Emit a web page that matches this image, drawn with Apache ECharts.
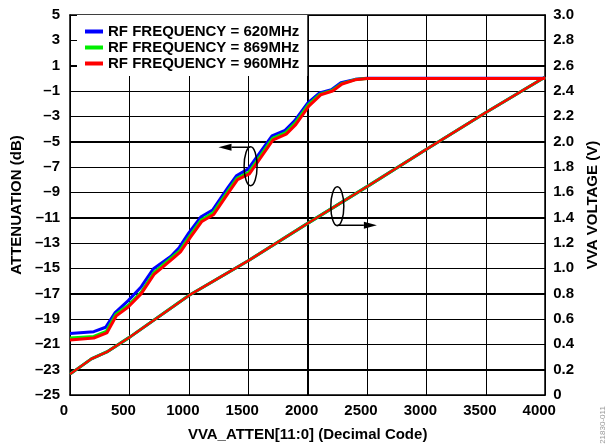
<!DOCTYPE html>
<html><head><meta charset="utf-8">
<script src="https://cdn.jsdelivr.net/npm/echarts@6/dist/echarts.min.js"></script>
<style>html,body{margin:0;padding:0;background:#fff}#c{width:608px;height:447px}</style>
</head><body><div id="c"></div>
<script>
// ---- data ----
const seriesNames = ['RF FREQUENCY = 620MHz', 'RF FREQUENCY = 869MHz', 'RF FREQUENCY = 960MHz'];
const seriesColors = ['#0000ff', '#00ee00', '#ff0000'];
const atten620 = [[0,-20.15],[200,-20.0],[300,-19.65],[380,-18.5],[490,-17.55],[600,-16.45],[700,-15.05],[850,-14.05],[920,-13.35],[1000,-12.2],[1100,-10.95],[1200,-10.4],[1330,-8.6],[1400,-7.7],[1500,-7.15],[1700,-4.55],[1810,-4.1],[1890,-3.35],[2000,-1.95],[2100,-1.15],[2200,-0.9],[2280,-0.35],[2400,-0.08],[2500,0],[4000,0]];
const atten869 = [[0,-20.5],[200,-20.38],[305,-19.98],[385,-18.65],[490,-17.92],[600,-16.88],[705,-15.35],[860,-14.12],[925,-13.6],[1005,-12.48],[1105,-11.18],[1205,-10.62],[1335,-8.83],[1405,-7.9],[1505,-7.43],[1705,-4.74],[1815,-4.28],[1895,-3.54],[2005,-2.1],[2105,-1.25],[2205,-0.96],[2285,-0.42],[2400,-0.1],[2500,-0.01],[4000,-0.01]];
const atten960 = [[0,-20.65],[200,-20.5],[310,-20.1],[390,-18.75],[490,-18.05],[600,-17.0],[710,-15.45],[870,-14.2],[930,-13.7],[1010,-12.6],[1110,-11.3],[1210,-10.75],[1340,-8.95],[1410,-8.0],[1510,-7.55],[1710,-4.85],[1820,-4.4],[1900,-3.65],[2010,-2.2],[2110,-1.3],[2210,-1.0],[2290,-0.45],[2400,-0.12],[2500,-0.02],[4000,-0.02]];
const vvaVoltage = [[0,0.165],[180,0.285],[310,0.34],[500,0.455],[1000,0.785],[1500,1.06],[2000,1.355],[2500,1.645],[3000,1.94],[3500,2.23],[4000,2.51]];
// grid tick values
const xTicks = [500, 1000, 1500, 2000, 2500, 3000, 3500];
const voltTicks = [0.2, 0.4, 0.6, 0.8, 1.0, 1.2, 1.4, 1.6, 1.8, 2.0, 2.2, 2.4, 2.6, 2.8];
// annotation anchors in data units: [x, y, yAxisIndex]
const ellipseAtten = [1520, -6.94, 0];
const arrowAtten = [[1517, -5.44], [1250, -5.44]];
const ellipseVolt = [2250, 1.49, 1];
const arrowVolt = [[2250, 1.34], [2583, 1.34]];

const FONT = 'Liberation Sans, Arial, sans-serif';
const txt = {color:'#000', fontWeight:'bold', fontSize:15, fontFamily:FONT};
const minus = s => String(s).replace('-', '\u2013');

const chart = echarts.init(document.getElementById('c'), null, {renderer:'canvas'});
const attenData = [atten620, atten869, atten960];
const series = [];
for (let i = 0; i < 3; i++) {
  series.push({name:'v'+i, type:'line', xAxisIndex:0, yAxisIndex:1, data:vvaVoltage, showSymbol:false,
    lineStyle:{color:seriesColors[i], width: i===2 ? 2.3 : 3}, itemStyle:{color:seriesColors[i]}, z:2});
}
for (let i = 0; i < 3; i++) {
  series.push({name:seriesNames[i], type:'line', xAxisIndex:0, yAxisIndex:0, data:attenData[i], showSymbol:false,
    lineStyle:{color:seriesColors[i], width:3}, itemStyle:{color:seriesColors[i]}, z:3});
}
const gridLine = {show:true, lineStyle:{color:'#000', width:1, type:'solid', opacity:1}};

chart.setOption({
  animation:false,
  backgroundColor:'#fff',
  grid:{left:70, right:58, top:15, bottom:49, show:false, containLabel:false},
  legend:{data:seriesNames, orient:'vertical', left:77, top:15, padding:[9,8,5,8], itemGap:1,
    itemWidth:18, itemHeight:4, itemTextGap:7, icon:'rect', backgroundColor:'#fff',
    textStyle:Object.assign({}, txt), selectedMode:false},
  xAxis:[
    {type:'value', position:'bottom', min:0, max:4000, interval:500,
     axisLine:{show:true, onZero:false, lineStyle:{color:'#000', width:1.5}}, axisTick:{show:false},
     splitLine:gridLine,
     axisLabel:Object.assign({margin:8, padding:[0,12,0,0], formatter:v => String(v)}, txt),
     name:'VVA_ATTEN[11:0] (Decimal Code)', nameLocation:'middle', nameGap:32, nameTextStyle:Object.assign({}, txt)},
    {type:'value', position:'top', min:0, max:4000, interval:500,
     axisLine:{show:true, onZero:false, lineStyle:{color:'#000', width:1.5}}, axisTick:{show:false},
     splitLine:{show:false}, axisLabel:{show:false}}
  ],
  yAxis:[
    {type:'value', position:'left', min:-25, max:5, interval:1,
     axisLine:{show:true, onZero:false, lineStyle:{color:'#000', width:1.5}}, axisTick:{show:false},
     splitLine:{show:false},
     axisLabel:Object.assign({margin:10, formatter:v => (Math.abs(Math.round(v)) % 2 === 1) ? minus(Math.round(v)) : ''}, txt),
     name:'ATTENUATION (dB)', nameLocation:'middle', nameGap:40, nameRotate:90, nameTextStyle:Object.assign({}, txt)},
    {type:'value', position:'right', min:0, max:3, interval:0.2,
     axisLine:{show:true, onZero:false, lineStyle:{color:'#000', width:1.5}}, axisTick:{show:false},
     splitLine:gridLine,
     axisLabel:Object.assign({margin:8, formatter:v => v === 0 ? '0' : v.toFixed(1)}, txt),
     name:'VVA VOLTAGE (V)', nameLocation:'middle', nameGap:34, nameRotate:90, nameTextStyle:Object.assign({}, txt)}
  ],
  series:series
});

function px(x, y, ax) { return chart.convertToPixel({xAxisIndex:0, yAxisIndex:ax}, [x, y]); }
function arrow(pts, ax) {
  const a = px(pts[0][0], pts[0][1], ax), b = px(pts[1][0], pts[1][1], ax);
  const dir = Math.sign(b[0] - a[0]);
  const base = b[0] - dir * 13;
  return [
    {type:'line', shape:{x1:a[0], y1:a[1], x2:base, y2:b[1]}, style:{stroke:'#000', lineWidth:1.5}, z:100},
    {type:'polygon', shape:{points:[[b[0], b[1]], [base, b[1]-3.5], [base, b[1]+3.5]]}, style:{fill:'#000'}, z:100}
  ];
}
// grid lines placed through the axes' own scales
const c00 = px(0, 0, 1), c11 = px(4000, 3, 1);
const crisp = v => Math.round(v) + 0.5;
const gridEls = [];
xTicks.forEach(t => {
  const x = crisp(px(t, 0, 1)[0]);
  gridEls.push({type:'line', shape:{x1:x, y1:c11[1], x2:x, y2:c00[1]}, style:{stroke:'#000', lineWidth:1}, z:1, silent:true});
});
voltTicks.forEach(t => {
  const y = crisp(px(0, t, 1)[1]);
  gridEls.push({type:'line', shape:{x1:c00[0], y1:y, x2:c11[0], y2:y}, style:{stroke:'#000', lineWidth:1}, z:1, silent:true});
});
const e1 = px(ellipseAtten[0], ellipseAtten[1], ellipseAtten[2]);
const e2 = px(ellipseVolt[0], ellipseVolt[1], ellipseVolt[2]);
const graphics = [
  ...gridEls,
  {type:'ellipse', shape:{cx:e1[0], cy:e1[1], rx:6.5, ry:19.5}, style:{fill:'none', stroke:'#000', lineWidth:1.5}, z:100},
  {type:'ellipse', shape:{cx:e2[0], cy:e2[1], rx:6.5, ry:19.5}, style:{fill:'none', stroke:'#000', lineWidth:1.5}, z:100},
  ...arrow(arrowAtten, 0), ...arrow(arrowVolt, 1),
  {type:'text', x:603, y:425, rotation:Math.PI/2, style:{text:'21830-011', fontSize:8, fontFamily:FONT, fill:'#999', align:'center', verticalAlign:'middle'}, z:100}
];
chart.setOption({graphic:graphics});
</script></body></html>
